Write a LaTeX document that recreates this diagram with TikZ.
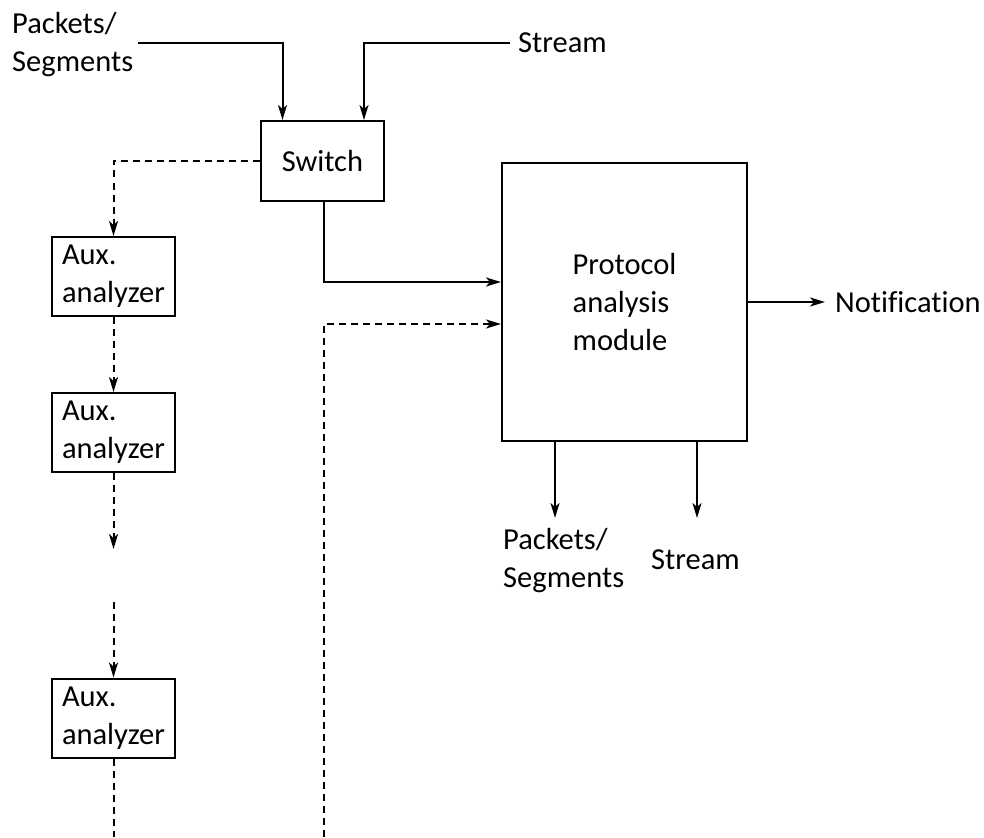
\documentclass[tikz,border=0pt]{standalone}
\usepackage{fontspec}
\setmainfont[Ligatures=NoCommon]{Carlito}
\usetikzlibrary{arrows.meta}
\begin{document}
\begin{tikzpicture}[x=1pt,y=-1pt,
  every node/.style={font=\fontsize{30.5}{38}\selectfont, inner sep=0pt},
  blk/.style={draw, line width=2pt, align=left},
  lbl/.style={anchor=west, align=left},
  link/.style={line width=2pt},
  arr/.style={link, -{Stealth[length=15pt,width=9pt,inset=4pt]}},
  dsh/.style={link, dash pattern=on 7pt off 5pt}]
\useasboundingbox (0,0) rectangle (984,837);

% blocks
\node[blk, minimum width=123pt, minimum height=80pt] (sw) at (322.5,161) {Switch};
\node[blk, minimum width=245pt, minimum height=278pt] (pam) at (624.5,302)
  {Protocol\\analysis\\module};
\node[blk, minimum width=123pt, minimum height=79pt] (aux1) at (113.5,276.5) {Aux.\\analyzer};
\node[blk, minimum width=123pt, minimum height=79pt] (aux2) at (113.5,432.5) {Aux.\\analyzer};
\node[blk, minimum width=123pt, minimum height=79pt] (aux3) at (113.5,718) {Aux.\\analyzer};

% labels
\node[lbl] (pin) at (12,45) {Packets/\\Segments};
\node[lbl] (sin) at (518,43) {Stream};
\node[lbl] (notif) at (835,302) {Notification};
\node[lbl] (pout) at (503,561) {Packets/\\Segments};
\node[lbl] (sout) at (651,560) {Stream};

% free ends
\coordinate (pinE) at (138,43);
\coordinate (sinW) at (510,43);
\coordinate (gapTop) at (113.5,549);
\coordinate (gapBot) at (113.5,602);
\coordinate (aux3end) at (113.5,837);
\coordinate (fbStart) at (324,837);
\coordinate (poutN) at (555,518);
\coordinate (soutN) at (697,518);

% inputs to the switch
\draw[arr] (pinE) -| ([xshift=-40pt]sw.north);
\draw[arr] (sinW) -| ([xshift=41.5pt]sw.north);

% switch to protocol analysis module
\draw[arr] ([xshift=1.5pt]sw.south) |- ([yshift=20pt]pam.west);

% auxiliary analyzer chain
\draw[arr, dsh] (sw.west) -| (aux1.north);
\draw[arr, dsh] (aux1.south) -- (aux2.north);
\draw[arr, dsh] (aux2.south) -- (gapTop);
\draw[arr, dsh] (gapBot) -- (aux3.north);
\draw[dsh] (aux3.south) -- (aux3end);

% feedback into the module
\draw[arr, dsh] (fbStart) |- ([yshift=-22pt]pam.west);

% outputs
\draw[arr] (pam.east) -- ([xshift=-10pt]notif.west);
\draw[arr] (pam.south -| poutN) -- (poutN);
\draw[arr] (pam.south -| soutN) -- (soutN);
\end{tikzpicture}
\end{document}
